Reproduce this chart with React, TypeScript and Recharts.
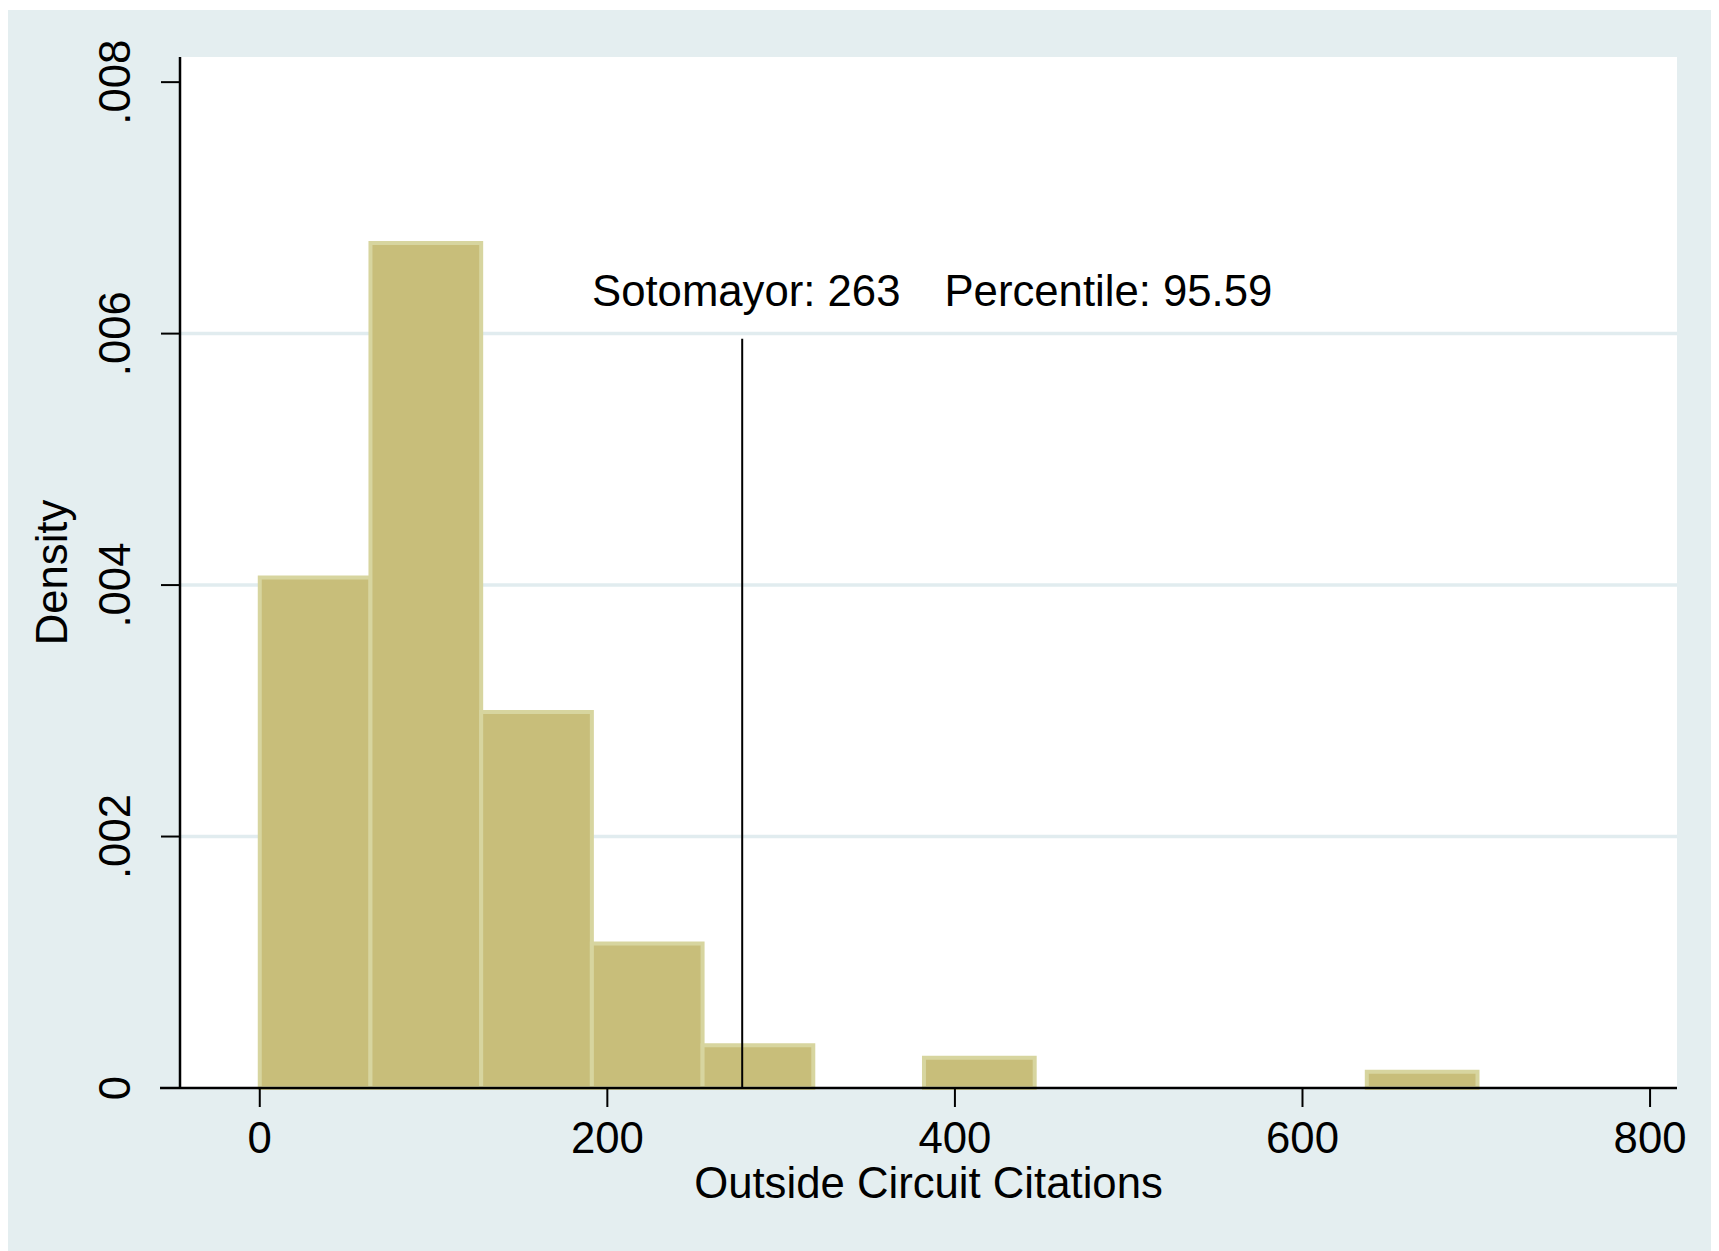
import React from 'react';
import {
  ComposedChart,
  XAxis,
  YAxis,
  CartesianGrid,
  ReferenceArea,
  ReferenceLine,
  ReferenceDot,
} from 'recharts';

// histogram bins (Outside Circuit Citations), left/right edges
const BIN_LEFT = [0, 63.7, 127.4, 191.1, 254.8, 318.5, 382.2, 445.9, 509.6, 573.3, 637];
const BIN_RIGHT = [63.7, 127.4, 191.1, 254.8, 318.5, 382.2, 445.9, 509.6, 573.3, 637, 700.7];
const DENSITY = [0.00406, 0.00672, 0.00299, 0.00115, 0.00034, 0, 0.00024, 0, 0, 0, 0.00013];

const X_TICKS = [0, 200, 400, 600, 800];
const Y_TICKS = [0, 0.002, 0.004, 0.006, 0.008];
const GRID_VALUES = [0.002, 0.004, 0.006];
const Y_MAX = 0.0082;

const MARKER_X = 277.6;
const MARKER_TOP = 0.00596;
const MARKER_LABEL = 'Sotomayor: 263';
const PCT_LABEL = 'Percentile: 95.59';

const FONT = '"Liberation Sans", Arial, Helvetica, sans-serif';
const FS = 43.7;
const BG = '#e4eef0';
const BAR_FILL = '#c8be7a';
const BAR_EDGE = '#d7d59f';
const GRID = '#e1ecef';

const histData = BIN_LEFT.map((l, i) => ({ x: (l + BIN_RIGHT[i]) / 2, density: DENSITY[i] }));

const fmtY = (v: number) => (v === 0 ? '0' : v.toFixed(3).replace(/^0/, ''));

const gridRows = (props: any) => {
  const { yAxis, offset } = props;
  return GRID_VALUES.map((v) =>
    yAxis && typeof yAxis.scale === 'function'
      ? yAxis.scale(v)
      : offset.top + offset.height * (1 - v / Y_MAX)
  );
};

const XTick = (props: any) => {
  const { x, y, payload } = props;
  return (
    <text x={x} y={y + 46} textAnchor="middle" fontFamily={FONT} fontSize={FS} fill="#000">
      {payload.value}
    </text>
  );
};

const YTick = (props: any) => {
  const { x, y, payload } = props;
  const bx = x - 31;
  return (
    <text
      x={bx}
      y={y}
      textAnchor="middle"
      transform={`rotate(-90, ${bx}, ${y})`}
      fontFamily={FONT}
      fontSize={FS}
      fill="#000"
    >
      {fmtY(payload.value)}
    </text>
  );
};

export default function App() {
  return (
    <div style={{ width: 1711, height: 1241, marginTop: 2, background: BG }}>
      <ComposedChart
        width={1711}
        height={1241}
        data={histData}
        margin={{ top: 47, right: 42, bottom: 43, left: 0 }}
      >
        <CartesianGrid
          vertical={false}
          horizontalCoordinatesGenerator={gridRows}
          stroke={GRID}
          strokeWidth={3.5}
          fill="#fff"
        />
        <XAxis
          type="number"
          dataKey="x"
          domain={[-45.9, 815.5]}
          allowDataOverflow
          ticks={X_TICKS}
          tick={<XTick />}
          tickSize={19}
          tickMargin={0}
          tickLine={{ stroke: '#000', strokeWidth: 2 }}
          axisLine={false}
          height={120}
          label={{
            position: 'insideBottom',
            content: (p: any) => {
              const vb = p.viewBox;
              return (
                <text
                  x={vb.x + vb.width / 2}
                  y={1188}
                  textAnchor="middle"
                  fontFamily={FONT}
                  fontSize={FS}
                  fill="#000"
                >
                  Outside Circuit Citations
                </text>
              );
            },
          }}
        />
        <YAxis
          type="number"
          domain={[0, Y_MAX]}
          allowDataOverflow
          ticks={Y_TICKS}
          tick={<YTick />}
          tickSize={19}
          tickMargin={0}
          tickLine={{ stroke: '#000', strokeWidth: 2 }}
          axisLine={{ stroke: '#000', strokeWidth: 2.5 }}
          width={172}
          label={{
            position: 'insideLeft',
            content: (p: any) => {
              const vb = p.viewBox;
              const cy = vb.y + vb.height / 2;
              return (
                <text
                  x={59}
                  y={cy}
                  textAnchor="middle"
                  transform={`rotate(-90, 59, ${cy})`}
                  fontFamily={FONT}
                  fontSize={FS}
                  fill="#000"
                >
                  Density
                </text>
              );
            },
          }}
        />
        {DENSITY.map((d, i) =>
          d > 0 ? (
            <ReferenceArea
              key={`bin-${i}`}
              x1={BIN_LEFT[i]}
              x2={BIN_RIGHT[i]}
              y1={0}
              y2={d}
              fill={BAR_FILL}
              fillOpacity={1}
              stroke={BAR_EDGE}
              strokeWidth={4}
            />
          ) : null
        )}
        <ReferenceLine
          segment={[
            { x: -57.4, y: 0 },
            { x: 815.5, y: 0 },
          ]}
          ifOverflow="visible"
          stroke="#000"
          strokeWidth={2.5}
        />
        <ReferenceLine
          segment={[
            { x: MARKER_X, y: 0 },
            { x: MARKER_X, y: MARKER_TOP },
          ]}
          stroke="#000"
          strokeWidth={2}
        />
        <ReferenceDot
          x={191.2}
          y={0.00622}
          r={0}
          fill="none"
          stroke="none"
          label={{
            content: (p: any) => {
              const vb = p.viewBox || {};
              const cx = vb.cx ?? vb.x ?? 0;
              const cy = vb.cy ?? vb.y ?? 0;
              return (
                <text x={cx} y={cy} textAnchor="start" fontFamily={FONT} fontSize={FS} fill="#000">
                  {MARKER_LABEL}
                  <tspan dx={44}>{PCT_LABEL}</tspan>
                </text>
              );
            },
          }}
        />
      </ComposedChart>
    </div>
  );
}
